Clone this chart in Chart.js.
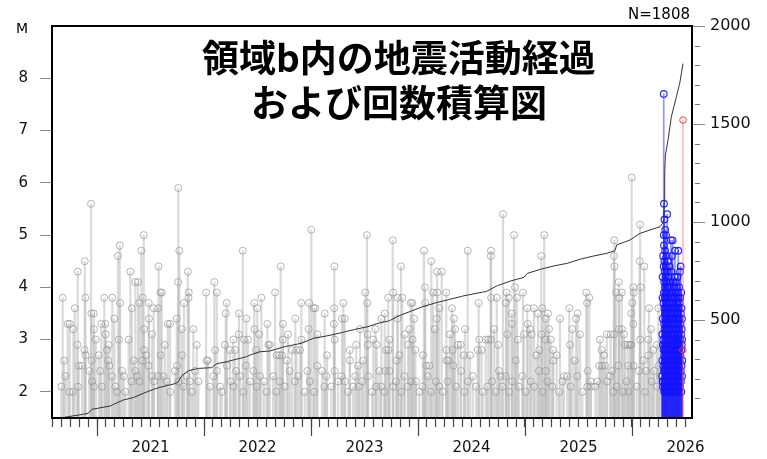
<!DOCTYPE html>
<html><head><meta charset="utf-8">
<script src="https://cdn.jsdelivr.net/npm/chart.js@4/dist/chart.umd.min.js"></script>
<style>html,body{margin:0;padding:0;background:#fff}#wrap{width:767px;height:459px;position:relative}</style>
</head><body><div id="wrap"><canvas id="c"></canvas></div>
<script>
// ---------- data (decimal year, magnitude) ----------
const titleLines = ['領域b内の地震活動経過', 'および回数積算図'];
const totalLabel = 'N=1808';
const xRange = [2020.079, 2026.061];
const yearLabels = [2021, 2022, 2023, 2024, 2025, 2026];
const magTicks = [2, 3, 4, 5, 6, 7, 8];
const countTicks = [500, 1000, 1500, 2000];
const countMinorTicks = [100,200,300,400,600,700,800,900,1100,1200,1300,1400,1600,1700,1800,1900];

const grayEvents = [
[2020.166,2.1],[2020.179,3.8],[2020.192,2.6],[2020.204,2.3],[2020.226,3.3],[2020.245,3.3],[2020.279,3.2],[2020.292,3.6],[2020.316,2.9],[2020.320,4.3],[2020.385,4.5],[2020.391,3.8],[2020.444,5.6],[2020.447,3.5],[2020.469,3.5],[2020.488,3.0],[2020.540,3.3],[2020.568,3.8],[2020.578,3.3],[2020.643,3.8],[2020.662,3.4],[2020.696,4.6],[2020.712,4.8],[2020.715,3.7],[2020.796,3.0],[2020.811,4.3],[2020.824,3.6],[2020.858,4.1],[2020.883,4.1],[2020.895,3.7],[2020.914,4.7],[2020.927,3.8],[2020.936,5.0],[2020.983,3.7],[2021.030,3.6],[2021.070,3.6],[2021.075,4.4],[2021.092,3.9],
[2020.471,3.2],[2020.580,3.1],[2020.609,2.9],[2020.703,3.0],[2020.940,3.2],[2020.985,3.4],[2021.014,3.1],
[2020.241,2.0],[2020.273,2.0],[2020.322,2.1],[2020.329,2.5],[2020.360,2.5],[2020.383,2.8],[2020.393,2.7],[2020.428,2.4],[2020.449,2.6],[2020.453,2.2],[2020.471,2.1],[2020.516,2.7],[2020.531,2.4],[2020.547,2.1],[2020.593,2.8],[2020.603,2.6],[2020.615,2.5],[2020.640,2.3],[2020.671,2.1],[2020.687,2.0],[2020.734,2.4],[2020.750,2.3],[2020.765,2.0],[2020.821,2.2],[2020.843,2.6],[2020.860,2.4],[2020.874,2.3],[2020.897,2.2],[2020.921,2.6],[2020.939,2.8],[2020.961,2.7],[2020.981,2.5],[2021.016,2.3],[2021.032,2.2],[2021.068,2.3],[2021.094,2.7],
[2021.105,3.9],[2021.120,2.3],[2021.133,2.9],[2021.151,2.2],[2021.161,3.3],[2021.182,3.3],[2021.184,2.0],[2021.229,2.4],[2021.245,3.4],[2021.247,2.5],[2021.258,4.1],[2021.260,5.9],[2021.262,2.2],[2021.269,4.7],[2021.292,3.2],[2021.294,2.7],[2021.307,2.1],[2021.313,3.7],[2021.338,2.3],[2021.348,4.3],[2021.355,3.8],[2021.357,3.9],[2021.369,2.2],[2021.385,2.0],[2021.400,3.2],[2021.416,2.4],[2021.432,2.9],[2021.447,2.2],[2021.519,3.9],[2021.525,2.6],[2021.535,2.6],[2021.556,2.1],[2021.587,2.3],[2021.596,4.1],[2021.603,2.8],[2021.619,3.9],[2021.621,2.4],[2021.650,2.1],[2021.665,2.0],[2021.696,2.9],[2021.703,3.5],[2021.712,3.7],[2021.714,2.5],[2021.743,2.8],[2021.750,2.2],[2021.774,3.0],[2021.776,2.1],[2021.790,2.8],[2021.799,2.4],[2021.824,3.1],[2021.827,3.5],[2021.836,2.3],[2021.862,4.7],[2021.867,2.0],[2021.874,3.0],[2021.893,2.5],[2021.895,3.4],[2021.911,3.0],[2021.930,2.2],[2021.961,2.4],[2021.970,3.7],[2021.972,3.2],[2021.986,2.8],[2021.993,2.1],[2021.998,3.6],[2022.014,3.1],[2022.023,2.3],[2022.036,3.8],[2022.061,2.2],[2022.086,2.0],[2022.092,3.3],[2022.101,2.9],
[2022.114,2.9],[2022.145,2.3],[2022.164,3.9],[2022.176,2.0],[2022.179,2.7],[2022.204,2.7],[2022.207,2.2],[2022.217,4.4],[2022.229,2.7],[2022.236,3.0],[2022.238,3.3],[2022.254,2.1],[2022.276,2.6],[2022.285,3.1],[2022.301,2.4],[2022.322,2.8],[2022.348,2.2],[2022.353,3.4],[2022.363,2.8],[2022.379,2.3],[2022.397,2.8],[2022.409,3.7],[2022.411,3.0],[2022.441,2.0],[2022.466,2.4],[2022.478,3.2],[2022.484,3.7],[2022.488,2.2],[2022.503,5.1],[2022.525,3.6],[2022.527,2.0],[2022.540,3.6],[2022.557,2.5],[2022.559,3.1],[2022.603,2.4],[2022.624,2.1],[2022.628,3.5],[2022.643,2.3],[2022.650,2.7],[2022.690,2.1],[2022.714,3.3],[2022.716,3.6],[2022.718,4.4],[2022.720,3.0],[2022.721,2.4],[2022.752,2.2],[2022.783,2.3],[2022.790,3.4],[2022.802,3.7],[2022.815,3.4],[2022.817,2.2],[2022.846,2.0],[2022.862,2.8],[2022.864,2.6],[2022.893,2.1],[2022.914,2.3],[2022.923,2.9],[2022.939,2.5],[2022.946,2.1],[2022.958,3.2],[2022.977,2.2],[2022.989,2.6],[2023.007,3.9],[2023.023,5.0],[2023.026,3.7],[2023.028,3.1],[2023.030,2.9],[2023.033,2.3],[2023.070,2.0],[2023.082,3.0],[2023.101,3.2],[2023.110,2.1],
[2023.114,2.9],[2023.138,2.4],[2023.154,2.1],[2023.157,3.4],[2023.185,2.0],[2023.189,3.5],[2023.194,2.4],[2023.201,2.8],[2023.222,3.8],[2023.224,2.8],[2023.232,3.0],[2023.234,2.4],[2023.264,4.9],[2023.266,3.9],[2023.268,2.1],[2023.294,2.2],[2023.301,2.6],[2023.308,3.4],[2023.310,3.8],[2023.325,2.7],[2023.341,4.4],[2023.343,2.0],[2023.353,3.8],[2023.372,2.3],[2023.376,3.1],[2023.404,2.1],[2023.407,2.9],[2023.419,3.2],[2023.432,3.7],[2023.435,2.2],[2023.447,3.7],[2023.450,3.0],[2023.463,3.4],[2023.475,2.8],[2023.481,2.2],[2023.512,2.0],[2023.544,2.1],[2023.547,2.7],[2023.556,4.7],[2023.565,4.0],[2023.567,3.7],[2023.575,2.5],[2023.591,2.3],[2023.606,2.5],[2023.621,2.0],[2023.624,4.5],[2023.640,3.9],[2023.656,3.2],[2023.668,2.2],[2023.676,3.4],[2023.678,4.3],[2023.680,3.9],[2023.699,3.6],[2023.701,2.1],[2023.722,4.3],[2023.731,2.0],[2023.764,3.9],[2023.766,2.8],[2023.768,2.6],[2023.778,2.2],[2023.783,2.6],[2023.799,3.1],[2023.818,3.6],[2023.824,2.8],[2023.830,2.5],[2023.836,3.4],[2023.846,3.2],[2023.855,2.1],[2023.874,2.9],[2023.899,2.9],[2023.902,2.4],[2023.930,2.7],[2023.933,2.0],[2023.939,3.2],[2023.964,4.7],[2023.966,2.2],[2023.986,2.7],[2024.011,2.3],[2024.042,2.1],[2024.058,2.8],[2024.067,3.7],[2024.073,3.0],[2024.095,2.8],[2024.105,2.0],
[2024.133,3.0],[2024.148,2.1],[2024.157,3.0],[2024.180,4.6],[2024.181,3.0],[2024.182,4.7],[2024.184,3.8],[2024.194,2.2],[2024.210,3.2],[2024.226,2.0],[2024.236,3.8],[2024.250,2.9],[2024.257,2.4],[2024.273,2.3],[2024.288,2.1],[2024.294,5.4],[2024.320,2.3],[2024.322,3.7],[2024.329,3.9],[2024.335,3.1],[2024.348,3.8],[2024.350,2.0],[2024.376,3.5],[2024.379,3.3],[2024.381,2.2],[2024.397,5.0],[2024.407,4.0],[2024.413,2.6],[2024.425,3.8],[2024.432,3.0],[2024.444,2.1],[2024.475,2.3],[2024.481,3.9],[2024.491,3.1],[2024.506,2.0],[2024.521,3.6],[2024.525,3.3],[2024.547,3.2],[2024.553,2.2],[2024.562,3.1],[2024.584,3.6],[2024.586,2.1],[2024.606,2.7],[2024.622,3.5],[2024.631,2.4],[2024.634,2.8],[2024.652,4.6],[2024.656,3.1],[2024.662,3.6],[2024.664,2.0],[2024.680,5.0],[2024.690,3.0],[2024.693,2.4],[2024.696,3.4],[2024.708,2.2],[2024.715,3.5],[2024.724,3.2],[2024.740,3.0],[2024.755,2.1],[2024.762,2.8],[2024.764,2.6],[2024.796,2.7],[2024.818,2.0],[2024.827,3.4],[2024.849,2.2],[2024.864,2.3],[2024.895,2.3],[2024.914,3.6],[2024.921,2.9],[2024.927,2.1],[2024.942,3.2],[2024.964,2.6],[2024.977,3.4],[2024.989,2.3],[2024.992,3.5],[2025.014,3.1],[2025.036,2.0],[2025.073,3.9],[2025.080,3.7],[2025.082,2.1],[2025.086,2.4],[2025.101,3.8],[2025.114,2.2],
[2025.117,2.1],[2025.157,2.1],[2025.176,2.2],[2025.194,2.5],[2025.201,3.0],[2025.217,2.8],[2025.220,2.5],[2025.238,2.7],[2025.248,2.5],[2025.264,3.1],[2025.266,2.2],[2025.294,2.3],[2025.301,3.1],[2025.310,2.4],[2025.325,2.0],[2025.332,4.6],[2025.333,3.1],[2025.335,4.9],[2025.336,4.4],[2025.351,3.9],[2025.357,2.1],[2025.372,2.5],[2025.376,4.1],[2025.378,3.2],[2025.381,3.8],[2025.404,3.9],[2025.406,3.2],[2025.419,2.0],[2025.425,3.1],[2025.435,2.9],[2025.450,2.2],[2025.460,2.9],[2025.465,2.5],[2025.467,2.0],[2025.481,2.9],[2025.493,2.9],[2025.495,3.5],[2025.497,6.1],[2025.503,3.7],[2025.512,4.0],[2025.513,3.3],[2025.514,2.5],[2025.516,3.9],[2025.544,2.1],[2025.565,2.4],[2025.573,4.5],[2025.575,5.2],[2025.577,3.0],[2025.581,4.0],[2025.605,2.6],[2025.615,4.4],[2025.621,2.0],[2025.631,2.4],[2025.652,3.0],[2025.654,2.7],[2025.659,3.6],[2025.678,3.2],[2025.684,2.2],[2025.699,2.8],[2025.706,2.4],[2025.731,2.9],[2025.733,2.1],[2025.746,3.6],[2025.752,2.5],[2025.761,2.3]
];

const blueEvents = [
[2025.782,2.3],[2025.783,3.1],[2025.784,2.6],[2025.785,3.8],[2025.786,2.2],[2025.787,4.2],[2025.788,2.9],[2025.789,3.4],[2025.790,2.1],[2025.791,4.6],[2025.792,3.0],[2025.793,2.5],[2025.794,3.7],[2025.795,2.8],[2025.796,4.4],[2025.797,7.7],[2025.797,5.0],[2025.798,3.9],[2025.798,2.4],[2025.799,5.6],[2025.799,4.8],[2025.800,3.3],[2025.800,2.7],[2025.801,4.1],[2025.801,2.0],[2025.802,3.6],[2025.802,2.9],[2025.803,4.5],[2025.803,2.2],[2025.804,3.2],[2025.804,5.3],[2025.805,2.6],[2025.805,3.8],[2025.806,4.3],[2025.806,2.1],[2025.807,3.5],[2025.807,2.8],[2025.808,4.0],[2025.808,2.4],[2025.809,3.1],[2025.810,4.7],[2025.810,2.5],[2025.811,5.1],[2025.811,3.4],[2025.812,2.0],[2025.812,3.9],[2025.813,2.7],[2025.813,4.2],[2025.814,3.0],[2025.814,2.3],[2025.815,3.6],[2025.815,2.9],[2025.816,4.4],[2025.816,2.2],[2025.817,3.3],[2025.818,5.0],[2025.818,2.6],[2025.819,3.8],[2025.819,2.1],[2025.820,4.1],[2025.821,2.8],[2025.821,3.5],[2025.822,2.4],[2025.823,4.6],[2025.823,3.1],[2025.824,2.0],[2025.825,3.7],[2025.825,2.7],[2025.826,4.3],[2025.827,2.3],[2025.827,3.2],[2025.828,2.9],[2025.829,5.4],[2025.829,3.9],[2025.830,2.5],[2025.831,3.4],[2025.831,2.1],[2025.832,4.0],[2025.833,2.8],[2025.834,3.6],[2025.834,2.2],[2025.835,3.0],[2025.836,4.5],[2025.836,2.6],[2025.837,3.3],[2025.838,2.0],[2025.839,3.8],[2025.839,2.9],[2025.840,2.4],[2025.841,4.2],[2025.842,3.1],[2025.842,2.2],[2025.843,3.5],[2025.844,2.7],[2025.845,4.0],[2025.846,2.3],[2025.847,3.2],[2025.848,2.0],[2025.849,3.7],[2025.850,2.8],[2025.851,4.4],[2025.852,2.5],[2025.853,3.0],[2025.854,2.1],[2025.855,3.9],[2025.856,2.6],[2025.857,3.4],[2025.858,2.2],[2025.859,4.1],[2025.860,2.9],[2025.861,3.3],[2025.862,2.0],[2025.863,3.6],[2025.864,4.9],[2025.865,2.4],[2025.866,3.1],[2025.867,2.7],[2025.868,4.3],[2025.869,2.2],[2025.870,3.5],[2025.871,2.8],[2025.872,3.8],[2025.873,4.6],[2025.874,2.5],[2025.875,3.0],[2025.876,2.1],[2025.877,3.7],[2025.878,2.9],[2025.879,2.3],[2025.880,4.9],[2025.881,3.4],[2025.882,2.6],[2025.883,3.9],[2025.884,2.0],[2025.885,3.2],[2025.886,2.7],[2025.887,4.1],[2025.888,2.4],[2025.889,3.6],[2025.890,2.2],[2025.891,3.0],[2025.892,4.0],[2025.893,2.8],[2025.894,3.3],[2025.895,2.1],[2025.896,3.8],[2025.897,2.5],[2025.898,3.1],[2025.899,4.2],[2025.900,2.3],[2025.901,3.5],[2025.902,4.7],[2025.903,2.9],[2025.904,2.0],[2025.905,3.4],[2025.906,2.6],[2025.907,3.9],[2025.908,2.2],[2025.909,3.0],[2025.910,4.1],[2025.911,2.7],[2025.912,3.6],[2025.913,2.4],[2025.914,3.2],[2025.915,2.0],[2025.916,3.8],[2025.917,2.8],[2025.918,4.0],[2025.919,2.5],[2025.920,3.3],[2025.921,2.1],[2025.922,3.7],[2025.923,2.9],[2025.924,2.3],[2025.925,3.5],[2025.926,4.2],[2025.927,2.6],[2025.928,3.0],[2025.929,2.0],[2025.930,3.9],[2025.931,2.7],[2025.932,3.4],[2025.933,4.7],[2025.934,2.4],[2025.935,3.1],[2025.936,2.2],[2025.937,3.8],[2025.938,2.8],[2025.939,3.6],[2025.940,2.5],[2025.941,3.2],[2025.942,2.0],[2025.943,4.0],[2025.944,2.9],[2025.945,3.4],[2025.946,2.3],[2025.947,3.7],[2025.948,2.6],[2025.949,4.3],[2025.950,2.1],[2025.951,3.0],[2025.952,3.8],[2025.953,2.7],[2025.954,3.3],[2025.955,4.4],[2025.956,2.4],[2025.957,3.5],[2025.958,2.2],[2025.959,3.1],[2025.960,2.8],[2025.961,3.9],[2025.962,2.0],[2025.963,3.6],[2025.964,2.5],[2025.965,3.2],[2025.966,2.9],[2025.967,3.4],[2025.968,2.3],[2025.969,3.0],[2025.970,2.6]
];

const redEvents = [[2025.975,2.8],[2025.977,7.2]];

const cumTimes  = [2020.166,2020.232,2020.372,2020.419,2020.450,2020.621,2020.746,2020.839,2020.933,2021.026,2021.089,2021.151,2021.229,2021.260,2021.292,2021.353,2021.447,2021.572,2021.619,2021.712,2021.774,2021.836,2021.899,2021.930,2022.023,2022.117,2022.254,2022.409,2022.519,2022.659,2022.783,2022.908,2023.033,2023.126,2023.232,2023.325,2023.419,2023.544,2023.668,2023.793,2023.918,2024.042,2024.136,2024.241,2024.366,2024.491,2024.522,2024.647,2024.771,2024.895,2025.021,2025.145,2025.264,2025.341,2025.357,2025.481,2025.575,2025.668,2025.762,2025.787,2025.799,2025.801,2025.806,2025.812,2025.837,2025.868,2025.915,2025.946,2025.977];
const cumCounts = [0,7,19,24,44,61,92,104,126,146,157,165,175,185,215,241,253,257,277,287,296,304,313,321,338,342,364,381,406,420,435,452,466,483,496,522,542,568,588,605,622,636,645,675,699,718,738,759,776,789,811,827,840,854,883,908,942,959,976,993,1010,1100,1250,1340,1418,1537,1639,1707,1808];

// ---------- chart ----------
const pts = arr => arr.map(([t, m]) => ({x: t, y: m}));
const FONT = 'DejaVu Sans';

const decor = {
  id: 'decor',
  afterDraw(chart) {
    const {ctx, chartArea: a, scales} = chart;
    ctx.save();
    // long mid-year ticks
    ctx.strokeStyle = '#444'; ctx.lineWidth = 1.2;
    for (let y = Math.floor(xRange[0]); y <= Math.ceil(xRange[1]); y++) {
      const v = y + 0.5;
      if (v <= xRange[0] || v >= xRange[1]) continue;
      const px = Math.round(scales.x.getPixelForValue(v)) + 0.5;
      ctx.beginPath(); ctx.moveTo(px, a.bottom); ctx.lineTo(px, a.bottom + 18); ctx.stroke();
    }
    // minor ticks on count axis
    ctx.strokeStyle = '#777'; ctx.lineWidth = 1;
    countMinorTicks.forEach(v => {
      const py = Math.round(scales.y2.getPixelForValue(v)) + 0.5;
      ctx.beginPath(); ctx.moveTo(a.right + 3, py); ctx.lineTo(a.right + 8, py); ctx.stroke();
    });
    // frame
    ctx.strokeStyle = '#000'; ctx.lineWidth = 2;
    ctx.strokeRect(a.left, a.top, a.right - a.left, a.bottom - a.top);
    // texts
    ctx.fillStyle = '#000';
    ctx.font = 'bold 37px "Noto Sans CJK JP"';
    ctx.textAlign = 'center'; ctx.textBaseline = 'middle';
    const cx = a.left + (a.right - a.left) * 0.542;
    ctx.fillText(titleLines[0], cx, a.top + 32);
    ctx.fillText(titleLines[1], cx, a.top + 77);
    ctx.font = '14px "' + FONT + '"';
    ctx.fillText('M', 22, a.top + 3);
    ctx.font = '15px "' + FONT + '"';
    ctx.textAlign = 'right'; ctx.textBaseline = 'alphabetic';
    ctx.fillText(totalLabel, a.right - 2, a.top - 7);
    ctx.restore();
  }
};

new Chart(document.getElementById('c'), {
  type: 'bar',
  data: {
    datasets: [
      {type: 'line', data: cumTimes.map((t, i) => ({x: t, y: cumCounts[i]})), yAxisID: 'y2',
       borderColor: '#333', borderWidth: 1, pointRadius: 0, fill: false, tension: 0, order: 0},
      {type: 'line', data: pts(redEvents), yAxisID: 'y', showLine: false, pointRadius: 3.3,
       pointBorderWidth: 1, pointBorderColor: 'rgba(240,50,50,0.9)', pointBackgroundColor: 'rgba(0,0,0,0)', order: 1},
      {type: 'bar', data: pts(redEvents), yAxisID: 'y', backgroundColor: 'rgba(255,90,90,0.35)',
       barThickness: 1.2, grouped: false, order: 2},
      {type: 'line', data: pts(blueEvents), yAxisID: 'y', showLine: false, pointRadius: 3.3,
       pointBorderWidth: 1.2, pointBorderColor: 'rgba(20,20,255,0.9)', pointBackgroundColor: 'rgba(0,0,0,0)', order: 3},
      {type: 'bar', data: pts(blueEvents), yAxisID: 'y', backgroundColor: 'rgba(40,40,255,0.5)',
       barThickness: 1, grouped: false, order: 4},
      {type: 'line', data: pts(grayEvents), yAxisID: 'y', showLine: false, pointRadius: 3.5,
       pointBorderWidth: 1, pointBorderColor: 'rgba(150,150,150,0.7)', pointBackgroundColor: 'rgba(0,0,0,0)', order: 5},
      {type: 'bar', data: pts(grayEvents), yAxisID: 'y', backgroundColor: 'rgba(190,190,190,0.55)',
       barThickness: 1.6, grouped: false, order: 6}
    ]
  },
  options: {
    animation: false, responsive: true, maintainAspectRatio: false,
    layout: {padding: {top: 26, left: 0, right: 0, bottom: 0}},
    plugins: {legend: {display: false}, tooltip: {enabled: false}, title: {display: false}},
    scales: {
      x: {
        type: 'linear', min: xRange[0], max: xRange[1], offset: false,
        grid: {offset: false, drawOnChartArea: false, drawTicks: true, tickLength: 9, tickColor: '#444', tickWidth: 1.2},
        border: {display: false},
        afterBuildTicks: s => {
          const t = [];
          for (let y = 2020; y <= 2026; y++) for (let m = 0; m < 12; m++) {
            const v = y + m / 12;
            if (v > s.min + 1e-6 && v < s.max - 1e-6) t.push({value: v});
          }
          s.ticks = t;
        },
        afterFit: s => { s.height = 41; },
        ticks: {autoSkip: false, maxRotation: 0, padding: 12, color: '#111',
          font: {family: FONT, size: 15},
          callback: v => {
            const r = Math.round(v);
            return (Math.abs(v - r) < 1e-6 && yearLabels.includes(r)) ? String(r) : '';
          }}
      },
      y: {
        type: 'linear', position: 'left', min: 1.5, max: 9,
        grid: {drawOnChartArea: false, tickLength: 12, tickColor: '#888'},
        border: {display: false},
        afterBuildTicks: s => { s.ticks = magTicks.map(v => ({value: v})); },
        afterFit: s => { s.width = 52; },
        ticks: {padding: 12, color: '#111', font: {family: FONT, size: 15}, callback: v => String(v)}
      },
      y2: {
        type: 'linear', position: 'right', min: 0, max: 2000,
        grid: {drawOnChartArea: false, tickLength: 13, tickColor: '#888'},
        border: {display: false},
        afterBuildTicks: s => { s.ticks = countTicks.map(v => ({value: v})); },
        afterFit: s => { s.width = 75; },
        ticks: {padding: 5, color: '#111', font: {family: FONT, size: 16}, callback: v => String(v)}
      }
    }
  },
  plugins: [decor]
});
</script>
</body></html>
